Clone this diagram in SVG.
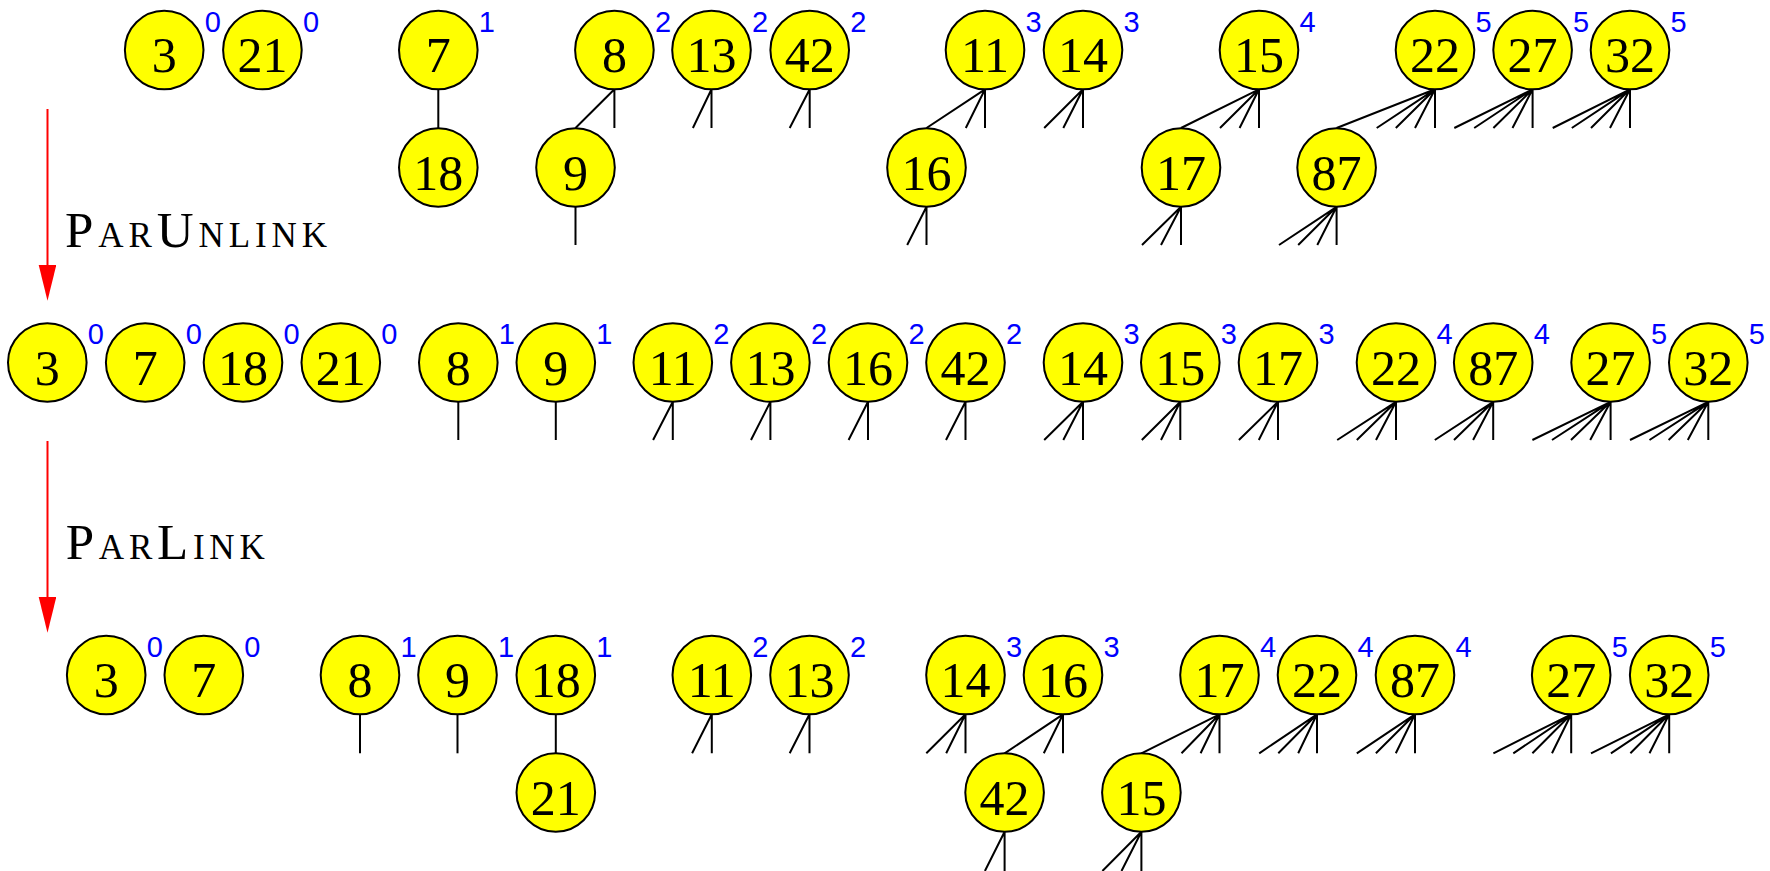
<svg xmlns="http://www.w3.org/2000/svg" width="1770" height="871" viewBox="0 0 1770 871">
<style>
.n circle{fill:#ffff00;stroke:#000;stroke-width:2}
.n text.k{font-family:"Liberation Serif",serif;font-size:50px;text-anchor:middle;fill:#000}
.n text.s{font-family:"Liberation Sans",sans-serif;font-size:29px;fill:#0000ff}
.e path{stroke:#000;stroke-width:2;fill:none}
.arrow{stroke:#ff0000;stroke-width:2;fill:none}
.op{font-family:"Liberation Serif",serif;fill:#000}
</style>
<defs>
<marker id="ah" markerUnits="userSpaceOnUse" markerWidth="36" markerHeight="18" viewBox="0 0 36 18" refX="25" refY="8.8" orient="auto">
<path d="M0,0 L35.7,8.8 L0,17.6 z" fill="#ff0000"/>
</marker>
</defs>
<rect width="1770" height="871" fill="#ffffff"/>

<g id="connectors" class="e">
<!-- row 1 -->
<path d="M438.3,89.3 L438.3,128"/>
<path d="M614.4,89.3 L575.5,128 M614.4,89.3 L614.4,128"/>
<path d="M711.5,89.3 L692.9,128 M711.5,89.3 L711.5,128"/>
<path d="M809.7,89.3 L789.7,128 M809.7,89.3 L809.7,128"/>
<path d="M985,89.3 L926.5,128 M985,89.3 L965.8,128 M985,89.3 L985,128"/>
<path d="M1083,89.3 L1044.2,128 M1083,89.3 L1063.3,128 M1083,89.3 L1083,128"/>
<path d="M1259,89.3 L1181,128 M1259,89.3 L1220,128 M1259,89.3 L1239.6,128 M1259,89.3 L1259,128"/>
<path d="M1435,89.3 L1336.6,128 M1435,89.3 L1376.7,128 M1435,89.3 L1395.8,128 M1435,89.3 L1415,128 M1435,89.3 L1435,128"/>
<path d="M1532.6,89.3 L1454.3,128 M1532.6,89.3 L1474.2,128 M1532.6,89.3 L1493.4,128 M1532.6,89.3 L1512.5,128 M1532.6,89.3 L1532.6,128"/>
<path d="M1630,89.3 L1552.7,128 M1630,89.3 L1571.8,128 M1630,89.3 L1591,128 M1630,89.3 L1610,128 M1630,89.3 L1630,128"/>
<path d="M575.5,206.8 L575.5,245"/>
<path d="M926.5,206.8 L907.2,245 M926.5,206.8 L926.5,245"/>
<path d="M1181,206.8 L1142,245 M1181,206.8 L1161,245 M1181,206.8 L1181,245"/>
<path d="M1336.6,206.8 L1279,245 M1336.6,206.8 L1298.2,245 M1336.6,206.8 L1317.3,245 M1336.6,206.8 L1336.6,245"/>
<!-- row 2 -->
<path d="M458.3,401.8 L458.3,440"/>
<path d="M555.8,401.8 L555.8,440"/>
<path d="M672.8,401.8 L653.1,440 M672.8,401.8 L672.8,440"/>
<path d="M770.4,401.8 L751,440 M770.4,401.8 L770.4,440"/>
<path d="M868,401.8 L848.6,440 M868,401.8 L868,440"/>
<path d="M965.5,401.8 L946,440 M965.5,401.8 L965.5,440"/>
<path d="M1083,401.8 L1044.2,440 M1083,401.8 L1063.3,440 M1083,401.8 L1083,440"/>
<path d="M1180.3,401.8 L1141.8,440 M1180.3,401.8 L1161,440 M1180.3,401.8 L1180.3,440"/>
<path d="M1278,401.8 L1238.9,440 M1278,401.8 L1258.8,440 M1278,401.8 L1278,440"/>
<path d="M1396,401.8 L1337.2,440 M1396,401.8 L1356.8,440 M1396,401.8 L1376,440 M1396,401.8 L1396,440"/>
<path d="M1493.2,401.8 L1434.8,440 M1493.2,401.8 L1454,440 M1493.2,401.8 L1473.1,440 M1493.2,401.8 L1493.2,440"/>
<path d="M1610.6,401.8 L1532.4,440 M1610.6,401.8 L1552,440 M1610.6,401.8 L1571,440 M1610.6,401.8 L1590.2,440 M1610.6,401.8 L1610.6,440"/>
<path d="M1708.3,401.8 L1630,440 M1708.3,401.8 L1649.5,440 M1708.3,401.8 L1668.6,440 M1708.3,401.8 L1687.8,440 M1708.3,401.8 L1708.3,440"/>
<!-- row 3 -->
<path d="M360,714.3 L360,753.3"/>
<path d="M457.5,714.3 L457.5,753.3"/>
<path d="M555.8,714.3 L555.8,753.3"/>
<path d="M711.8,714.3 L692.1,753.3 M711.8,714.3 L711.8,753.3"/>
<path d="M809.5,714.3 L789.7,753.3 M809.5,714.3 L809.5,753.3"/>
<path d="M965.5,714.3 L926.3,753.3 M965.5,714.3 L946.2,753.3 M965.5,714.3 L965.5,753.3"/>
<path d="M1063,714.3 L1004.6,753.3 M1063,714.3 L1043.8,753.3 M1063,714.3 L1063,753.3"/>
<path d="M1219.5,714.3 L1141.4,753.3 M1219.5,714.3 L1181.5,753.3 M1219.5,714.3 L1200.6,753.3 M1219.5,714.3 L1219.5,753.3"/>
<path d="M1317,714.3 L1259.2,753.3 M1317,714.3 L1278.3,753.3 M1317,714.3 L1298.2,753.3 M1317,714.3 L1317,753.3"/>
<path d="M1415,714.3 L1356.8,753.3 M1415,714.3 L1375.9,753.3 M1415,714.3 L1395.8,753.3 M1415,714.3 L1415,753.3"/>
<path d="M1571.2,714.3 L1493.4,753.3 M1571.2,714.3 L1513.3,753.3 M1571.2,714.3 L1532.4,753.3 M1571.2,714.3 L1552,753.3 M1571.2,714.3 L1571.2,753.3"/>
<path d="M1669.2,714.3 L1591,753.3 M1669.2,714.3 L1610.9,753.3 M1669.2,714.3 L1630.4,753.3 M1669.2,714.3 L1649.5,753.3 M1669.2,714.3 L1669.2,753.3"/>
<path d="M1004.6,831.8 L984.9,871 M1004.6,831.8 L1004.6,871"/>
<path d="M1141.4,831.8 L1102.4,871 M1141.4,831.8 L1121.5,871 M1141.4,831.8 L1141.4,871"/>
</g>

<g id="arrows">
<path class="arrow" d="M47.5,109 L47.5,290" marker-end="url(#ah)"/>
<path class="arrow" d="M47.5,441 L47.5,622" marker-end="url(#ah)"/>
</g>
<g id="labels">
<text class="op" x="65" y="247" textLength="262" lengthAdjust="spacing"><tspan font-size="51">P</tspan><tspan font-size="35">AR</tspan><tspan font-size="51">U</tspan><tspan font-size="35">NLINK</tspan></text>
<text class="op" x="65.7" y="559" textLength="199" lengthAdjust="spacing"><tspan font-size="51">P</tspan><tspan font-size="35">AR</tspan><tspan font-size="51">L</tspan><tspan font-size="35">INK</tspan></text>
</g>

<!-- Row 1 -->
<g id="r1-3" class="n"><circle cx="164.2" cy="50" r="39.3"/><text class="k" x="164.2" y="72">3</text><text class="s" x="204.7" y="32">0</text></g>
<g id="r1-21" class="n"><circle cx="262.4" cy="50" r="39.3"/><text class="k" x="262.4" y="72">21</text><text class="s" x="302.9" y="32">0</text></g>
<g id="r1-7" class="n"><circle cx="438.3" cy="50" r="39.3"/><text class="k" x="438.3" y="72">7</text><text class="s" x="478.8" y="32">1</text></g>
<g id="r1-18" class="n"><circle cx="438.3" cy="167.5" r="39.3"/><text class="k" x="438.3" y="189.5">18</text></g>
<g id="r1-8" class="n"><circle cx="614.4" cy="50" r="39.3"/><text class="k" x="614.4" y="72">8</text><text class="s" x="654.9" y="32">2</text></g>
<g id="r1-9" class="n"><circle cx="575.5" cy="167.5" r="39.3"/><text class="k" x="575.5" y="189.5">9</text></g>
<g id="r1-13" class="n"><circle cx="711.5" cy="50" r="39.3"/><text class="k" x="711.5" y="72">13</text><text class="s" x="752" y="32">2</text></g>
<g id="r1-42" class="n"><circle cx="809.7" cy="50" r="39.3"/><text class="k" x="809.7" y="72">42</text><text class="s" x="850.2" y="32">2</text></g>
<g id="r1-11" class="n"><circle cx="985" cy="50" r="39.3"/><text class="k" x="985" y="72">11</text><text class="s" x="1025.5" y="32">3</text></g>
<g id="r1-16" class="n"><circle cx="926.5" cy="167.5" r="39.3"/><text class="k" x="926.5" y="189.5">16</text></g>
<g id="r1-14" class="n"><circle cx="1083" cy="50" r="39.3"/><text class="k" x="1083" y="72">14</text><text class="s" x="1123.5" y="32">3</text></g>
<g id="r1-15" class="n"><circle cx="1259" cy="50" r="39.3"/><text class="k" x="1259" y="72">15</text><text class="s" x="1299.5" y="32">4</text></g>
<g id="r1-17" class="n"><circle cx="1181" cy="167.5" r="39.3"/><text class="k" x="1181" y="189.5">17</text></g>
<g id="r1-22" class="n"><circle cx="1435" cy="50" r="39.3"/><text class="k" x="1435" y="72">22</text><text class="s" x="1475.5" y="32">5</text></g>
<g id="r1-87" class="n"><circle cx="1336.6" cy="167.5" r="39.3"/><text class="k" x="1336.6" y="189.5">87</text></g>
<g id="r1-27" class="n"><circle cx="1532.6" cy="50" r="39.3"/><text class="k" x="1532.6" y="72">27</text><text class="s" x="1573.1" y="32">5</text></g>
<g id="r1-32" class="n"><circle cx="1630" cy="50" r="39.3"/><text class="k" x="1630" y="72">32</text><text class="s" x="1670.5" y="32">5</text></g>

<!-- Row 2 -->
<g id="r2-3" class="n"><circle cx="47.3" cy="362.5" r="39.3"/><text class="k" x="47.3" y="384.5">3</text><text class="s" x="87.8" y="344">0</text></g>
<g id="r2-7" class="n"><circle cx="145.2" cy="362.5" r="39.3"/><text class="k" x="145.2" y="384.5">7</text><text class="s" x="185.7" y="344">0</text></g>
<g id="r2-18" class="n"><circle cx="243" cy="362.5" r="39.3"/><text class="k" x="243" y="384.5">18</text><text class="s" x="283.5" y="344">0</text></g>
<g id="r2-21" class="n"><circle cx="340.8" cy="362.5" r="39.3"/><text class="k" x="340.8" y="384.5">21</text><text class="s" x="381.3" y="344">0</text></g>
<g id="r2-8" class="n"><circle cx="458.3" cy="362.5" r="39.3"/><text class="k" x="458.3" y="384.5">8</text><text class="s" x="498.8" y="344">1</text></g>
<g id="r2-9" class="n"><circle cx="555.8" cy="362.5" r="39.3"/><text class="k" x="555.8" y="384.5">9</text><text class="s" x="596.3" y="344">1</text></g>
<g id="r2-11" class="n"><circle cx="672.8" cy="362.5" r="39.3"/><text class="k" x="672.8" y="384.5">11</text><text class="s" x="713.3" y="344">2</text></g>
<g id="r2-13" class="n"><circle cx="770.4" cy="362.5" r="39.3"/><text class="k" x="770.4" y="384.5">13</text><text class="s" x="810.9" y="344">2</text></g>
<g id="r2-16" class="n"><circle cx="868" cy="362.5" r="39.3"/><text class="k" x="868" y="384.5">16</text><text class="s" x="908.5" y="344">2</text></g>
<g id="r2-42" class="n"><circle cx="965.5" cy="362.5" r="39.3"/><text class="k" x="965.5" y="384.5">42</text><text class="s" x="1006" y="344">2</text></g>
<g id="r2-14" class="n"><circle cx="1083" cy="362.5" r="39.3"/><text class="k" x="1083" y="384.5">14</text><text class="s" x="1123.5" y="344">3</text></g>
<g id="r2-15" class="n"><circle cx="1180.3" cy="362.5" r="39.3"/><text class="k" x="1180.3" y="384.5">15</text><text class="s" x="1220.8" y="344">3</text></g>
<g id="r2-17" class="n"><circle cx="1278" cy="362.5" r="39.3"/><text class="k" x="1278" y="384.5">17</text><text class="s" x="1318.5" y="344">3</text></g>
<g id="r2-22" class="n"><circle cx="1396" cy="362.5" r="39.3"/><text class="k" x="1396" y="384.5">22</text><text class="s" x="1436.5" y="344">4</text></g>
<g id="r2-87" class="n"><circle cx="1493.2" cy="362.5" r="39.3"/><text class="k" x="1493.2" y="384.5">87</text><text class="s" x="1533.7" y="344">4</text></g>
<g id="r2-27" class="n"><circle cx="1610.6" cy="362.5" r="39.3"/><text class="k" x="1610.6" y="384.5">27</text><text class="s" x="1651.1" y="344">5</text></g>
<g id="r2-32" class="n"><circle cx="1708.3" cy="362.5" r="39.3"/><text class="k" x="1708.3" y="384.5">32</text><text class="s" x="1748.8" y="344">5</text></g>

<!-- Row 3 -->
<g id="r3-3" class="n"><circle cx="106.2" cy="675" r="39.3"/><text class="k" x="106.2" y="697">3</text><text class="s" x="146.7" y="657">0</text></g>
<g id="r3-7" class="n"><circle cx="203.8" cy="675" r="39.3"/><text class="k" x="203.8" y="697">7</text><text class="s" x="244.3" y="657">0</text></g>
<g id="r3-8" class="n"><circle cx="360" cy="675" r="39.3"/><text class="k" x="360" y="697">8</text><text class="s" x="400.5" y="657">1</text></g>
<g id="r3-9" class="n"><circle cx="457.5" cy="675" r="39.3"/><text class="k" x="457.5" y="697">9</text><text class="s" x="498" y="657">1</text></g>
<g id="r3-18" class="n"><circle cx="555.8" cy="675" r="39.3"/><text class="k" x="555.8" y="697">18</text><text class="s" x="596.3" y="657">1</text></g>
<g id="r3-21" class="n"><circle cx="555.8" cy="792.5" r="39.3"/><text class="k" x="555.8" y="814.5">21</text></g>
<g id="r3-11" class="n"><circle cx="711.8" cy="675" r="39.3"/><text class="k" x="711.8" y="697">11</text><text class="s" x="752.3" y="657">2</text></g>
<g id="r3-13" class="n"><circle cx="809.5" cy="675" r="39.3"/><text class="k" x="809.5" y="697">13</text><text class="s" x="850" y="657">2</text></g>
<g id="r3-14" class="n"><circle cx="965.5" cy="675" r="39.3"/><text class="k" x="965.5" y="697">14</text><text class="s" x="1006" y="657">3</text></g>
<g id="r3-16" class="n"><circle cx="1063" cy="675" r="39.3"/><text class="k" x="1063" y="697">16</text><text class="s" x="1103.5" y="657">3</text></g>
<g id="r3-42" class="n"><circle cx="1004.6" cy="792.5" r="39.3"/><text class="k" x="1004.6" y="814.5">42</text></g>
<g id="r3-17" class="n"><circle cx="1219.5" cy="675" r="39.3"/><text class="k" x="1219.5" y="697">17</text><text class="s" x="1260" y="657">4</text></g>
<g id="r3-15" class="n"><circle cx="1141.4" cy="792.5" r="39.3"/><text class="k" x="1141.4" y="814.5">15</text></g>
<g id="r3-22" class="n"><circle cx="1317" cy="675" r="39.3"/><text class="k" x="1317" y="697">22</text><text class="s" x="1357.5" y="657">4</text></g>
<g id="r3-87" class="n"><circle cx="1415" cy="675" r="39.3"/><text class="k" x="1415" y="697">87</text><text class="s" x="1455.5" y="657">4</text></g>
<g id="r3-27" class="n"><circle cx="1571.2" cy="675" r="39.3"/><text class="k" x="1571.2" y="697">27</text><text class="s" x="1611.7" y="657">5</text></g>
<g id="r3-32" class="n"><circle cx="1669.2" cy="675" r="39.3"/><text class="k" x="1669.2" y="697">32</text><text class="s" x="1709.7" y="657">5</text></g>
</svg>
